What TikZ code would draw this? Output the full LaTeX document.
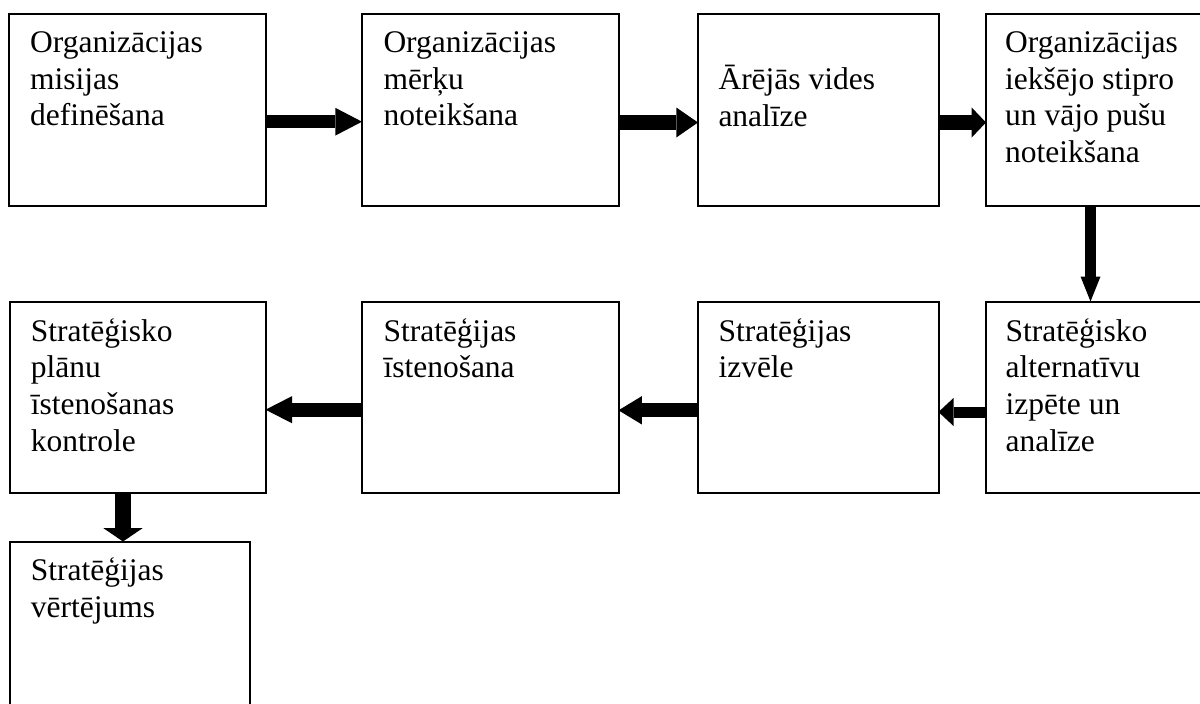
\documentclass[tikz,border=0pt]{standalone}
\usepackage{fontspec}
\setmainfont{Liberation Serif}
\usetikzlibrary{arrows.meta}
\tikzset{
  box/.style={draw, rectangle, line width=2pt, inner sep=0pt, outer sep=0pt, anchor=north west},
  txt/.style={anchor=base west, inner sep=0pt, align=left, font=\fontsize{31.5}{36.7}\selectfont},
  arr/.style n args={3}{draw, line width=#1, line cap=butt, -{Triangle[width=#2,length=#3,line width=0pt]}}
}
\begin{document}
\begin{tikzpicture}[x=1pt,y=-1pt]
\useasboundingbox (0,0) rectangle (1200,704);
\clip (0,0) rectangle (1200,704);
% row 1
\node[box, minimum width=257pt, minimum height=192pt] (b1) at (8.5,13.5) {};
\node[box, minimum width=256.5pt, minimum height=192pt] (b2) at (362,13.5) {};
\node[box, minimum width=240.5pt, minimum height=192pt] (b3) at (698,13.5) {};
\node[box, minimum width=225pt, minimum height=192pt] (b4) at (986,13.5) {};
% row 2
\node[box, minimum width=256pt, minimum height=191pt] (b5) at (9.5,301.5) {};
\node[box, minimum width=256.5pt, minimum height=191pt] (b6) at (362,301.5) {};
\node[box, minimum width=240.5pt, minimum height=191pt] (b7) at (698,301.5) {};
\node[box, minimum width=225pt, minimum height=191.5pt] (b8) at (985.5,301.5) {};
% row 3
\node[box, minimum width=240.5pt, minimum height=175pt] (b9) at (9.5,541.5) {};
% texts (anchored at the baseline of the last line)
\node[txt] (t1) at (30,125.7) {Organizācijas\\misijas\\definēšana};
\node[txt] (t2) at (383.3,125.7) {Organizācijas\\mērķu\\noteikšana};
\node[txt] (t3) at (718.3,126.2) {Ārējās vides\\analīze};
\node[txt] (t4) at (1005,162.4) {Organizācijas\\iekšējo stipro\\un vājo pušu\\noteikšana};
\node[txt] (t5) at (30.7,451.1) {Stratēģisko\\plānu\\īstenošanas\\kontrole};
\node[txt] (t6) at (383.3,377.7) {Stratēģijas\\īstenošana};
\node[txt] (t7) at (718.3,377.7) {Stratēģijas\\izvēle};
\node[txt] (t8) at (1005.5,451.1) {Stratēģisko\\alternatīvu\\izpēte un\\analīze};
\node[txt] (t9) at (30.7,617.2) {Stratēģijas\\vērtējums};
% arrows
\draw[arr={13.3pt}{27.7pt}{26.6pt}] (b1.east |- 0,121.7) -- (b2.west |- 0,121.7);
\draw[arr={15pt}{30pt}{21.7pt}] (b2.east |- 0,122.5) -- (b3.west |- 0,122.5);
\draw[arr={15pt}{30pt}{14.3pt}] (b3.east |- 0,122.5) -- (b4.west |- 0,122.5);
\draw[arr={11pt}{20pt}{25pt}] (b4.south -| 1090.5,0) -- (b8.north -| 1090.5,0);
\draw[arr={11pt}{28pt}{15pt}] (b8.west |- 0,412) -- (b7.east |- 0,412);
\draw[arr={14pt}{28.3pt}{23.3pt}] (b7.west |- 0,410.3) -- (b6.east |- 0,410.3);
\draw[arr={14pt}{27.3pt}{26.7pt}] (b6.west |- 0,409.7) -- (b5.east |- 0,409.7);
\draw[arr={16pt}{39.4pt}{13.4pt}] (b5.south -| 123,0) -- (b9.north -| 123,0);
\end{tikzpicture}
\end{document}
